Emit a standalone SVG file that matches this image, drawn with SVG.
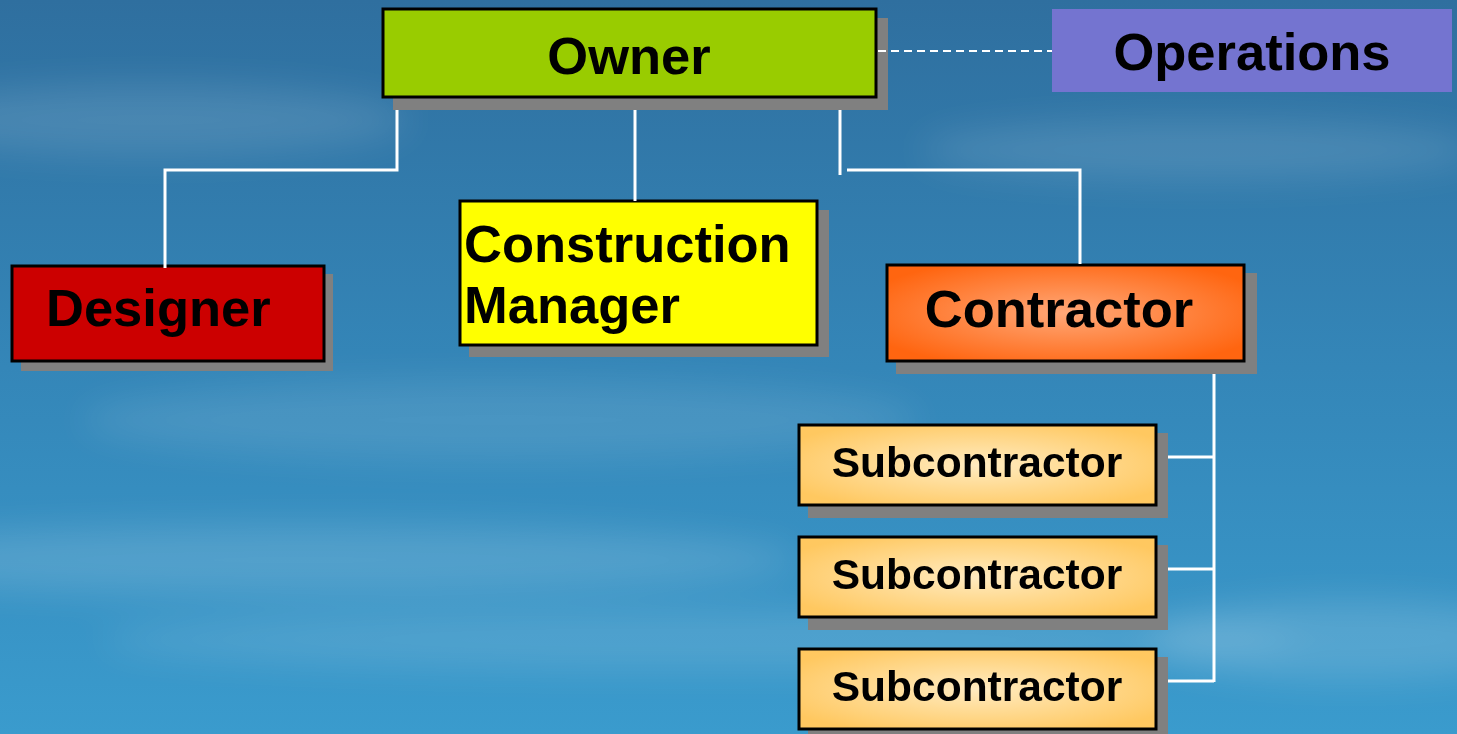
<svg xmlns="http://www.w3.org/2000/svg" width="1457" height="734" viewBox="0 0 1457 734">
<style>
.lbl{font-family:"Liberation Sans",Arial,sans-serif;font-weight:bold;fill:#000}
.big{font-size:52.5px}
.sm{font-size:42.5px}
.sh{fill:#808080}
.bx{stroke:#000;stroke-width:3}
.con{stroke:#fff;stroke-width:3;fill:none}
</style>
<defs>
<linearGradient id="bg" x1="0" y1="0" x2="0" y2="1">
<stop offset="0" stop-color="#2F6F9F"/>
<stop offset="0.5" stop-color="#3486B8"/>
<stop offset="1" stop-color="#3A9BCD"/>
</linearGradient>
<radialGradient id="orange" cx="0.5" cy="0.5" r="0.6">
<stop offset="0" stop-color="#FFA878"/>
<stop offset="1" stop-color="#FF6510"/>
</radialGradient>
<radialGradient id="sub" cx="0.5" cy="0.5" r="0.6">
<stop offset="0" stop-color="#FFEBC0"/>
<stop offset="1" stop-color="#FFC860"/>
</radialGradient>
<filter id="blur" x="-20%" y="-50%" width="140%" height="200%"><feGaussianBlur stdDeviation="18"/></filter>
</defs>
<rect x="0" y="0" width="1457" height="734" fill="url(#bg)"/>
<g filter="url(#blur)" fill="#fff">
<ellipse cx="150" cy="120" rx="260" ry="35" opacity="0.12"/>
<ellipse cx="1200" cy="150" rx="280" ry="30" opacity="0.12"/>
<ellipse cx="500" cy="420" rx="420" ry="40" opacity="0.10"/>
<ellipse cx="300" cy="560" rx="500" ry="35" opacity="0.14"/>
<ellipse cx="700" cy="640" rx="600" ry="30" opacity="0.12"/>
<ellipse cx="1350" cy="640" rx="200" ry="40" opacity="0.15"/>
</g>
<g id="owner">
<rect class="sh" x="393" y="18" width="495" height="92"/>
<rect class="bx" x="383" y="9" width="493" height="88" fill="#99CC00"/>
<text class="lbl big" x="629" y="74" text-anchor="middle">Owner</text>
</g>
<g id="operations">
<rect x="1052" y="9" width="400" height="83" fill="#7474D0"/>
<text class="lbl big" x="1252" y="70" text-anchor="middle">Operations</text>
</g>
<g id="designer">
<rect class="sh" x="21" y="274" width="312" height="97"/>
<rect class="bx" x="12" y="266" width="312" height="95" fill="#CC0000"/>
<text class="lbl big" x="46" y="326">Designer</text>
</g>
<g id="construction-manager">
<rect class="sh" x="469" y="210" width="360" height="147"/>
<rect class="bx" x="460" y="201" width="357" height="144" fill="#FFFF00"/>
<text class="lbl big" x="464" y="262">Construction</text>
<text class="lbl big" x="464" y="323">Manager</text>
</g>
<g id="contractor">
<rect class="sh" x="896" y="273" width="361" height="101"/>
<rect class="bx" x="887" y="265" width="357" height="96" fill="url(#orange)"/>
<text class="lbl big" x="1059" y="327" text-anchor="middle">Contractor</text>
</g>
<g id="subcontractor-1">
<rect class="sh" x="808" y="433" width="360" height="85"/>
<rect class="bx" x="799" y="425" width="357" height="80" fill="url(#sub)"/>
<text class="lbl sm" x="977" y="477" text-anchor="middle">Subcontractor</text>
</g>
<g id="subcontractor-2">
<rect class="sh" x="808" y="545" width="360" height="85"/>
<rect class="bx" x="799" y="537" width="357" height="80" fill="url(#sub)"/>
<text class="lbl sm" x="977" y="589" text-anchor="middle">Subcontractor</text>
</g>
<g id="subcontractor-3">
<rect class="sh" x="808" y="657" width="360" height="85"/>
<rect class="bx" x="799" y="649" width="357" height="80" fill="url(#sub)"/>
<text class="lbl sm" x="977" y="701" text-anchor="middle">Subcontractor</text>
</g>
<g id="connectors">
<polyline class="con" points="397,110 397,170 165,170 165,268"/>
<line class="con" x1="635" y1="110" x2="635" y2="201"/>
<line class="con" x1="840" y1="110" x2="840" y2="175"/>
<polyline class="con" points="847,170 1080,170 1080,264"/>
<line class="con" x1="1214" y1="374" x2="1214" y2="682"/>
<line class="con" x1="1168" y1="457" x2="1214" y2="457"/>
<line class="con" x1="1168" y1="569" x2="1214" y2="569"/>
<line class="con" x1="1168" y1="681" x2="1214" y2="681"/>
<line x1="878" y1="51" x2="1052" y2="51" stroke="#fff" stroke-width="2" stroke-dasharray="8,5"/>
</g>
</svg>
